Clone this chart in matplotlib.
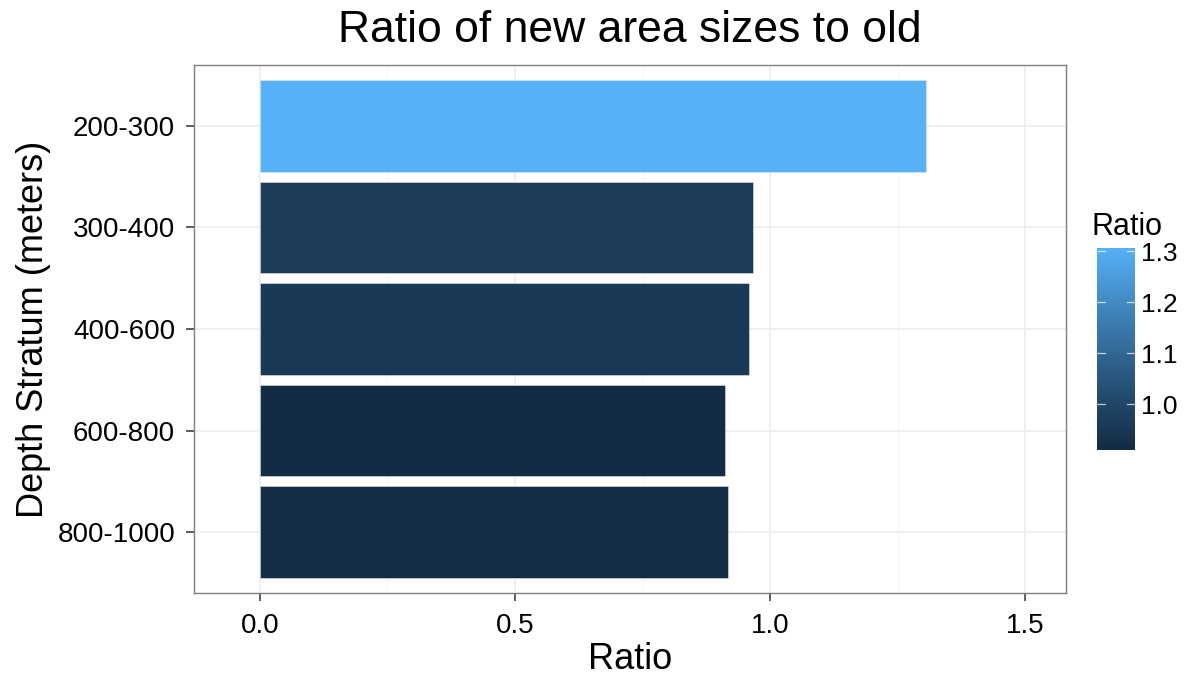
import numpy as np
import matplotlib
matplotlib.use("Agg")
import matplotlib.pyplot as plt
from matplotlib.colors import ListedColormap, Normalize

plt.rcParams['font.family'] = ['Liberation Sans', 'DejaVu Sans']

categories = ["200-300", "300-400", "400-600", "600-800", "800-1000"]
ratios = [1.306, 0.967, 0.959, 0.911, 0.918]
x_ticks = [0.0, 0.5, 1.0, 1.5]
x_tick_labels = ["0.0", "0.5", "1.0", "1.5"]
cbar_ticks = [1.0, 1.1, 1.2, 1.3]


def srgb_to_lab(rgb):
    rgb = np.asarray(rgb, float)
    lin = np.where(rgb <= 0.04045, rgb / 12.92, ((rgb + 0.055) / 1.055) ** 2.4)
    M = np.array([[0.4124, 0.3576, 0.1805], [0.2126, 0.7152, 0.0722], [0.0193, 0.1192, 0.9505]])
    xyz = M @ lin
    wp = np.array([0.95047, 1.0, 1.08883])
    t = xyz / wp
    f = np.where(t > (6 / 29) ** 3, np.cbrt(t), t / (3 * (6 / 29) ** 2) + 4 / 29)
    return np.array([116 * f[1] - 16, 500 * (f[0] - f[1]), 200 * (f[1] - f[2])])


def lab_to_srgb(lab):
    L, a, b = lab
    fy = (L + 16) / 116
    fx = fy + a / 500
    fz = fy - b / 200
    f = np.array([fx, fy, fz])
    t = np.where(f > 6 / 29, f ** 3, 3 * (6 / 29) ** 2 * (f - 4 / 29))
    wp = np.array([0.95047, 1.0, 1.08883])
    xyz = t * wp
    Minv = np.linalg.inv(np.array([[0.4124, 0.3576, 0.1805], [0.2126, 0.7152, 0.0722], [0.0193, 0.1192, 0.9505]]))
    lin = np.clip(Minv @ xyz, 0, 1)
    rgb = np.where(lin <= 0.0031308, 12.92 * lin, 1.055 * lin ** (1 / 2.4) - 0.055)
    return np.clip(rgb, 0, 1)


lo = srgb_to_lab(np.array([0x13, 0x2B, 0x43]) / 255)
hi = srgb_to_lab(np.array([0x56, 0xB1, 0xF7]) / 255)
cols = [lab_to_srgb(lo + (hi - lo) * s) for s in np.linspace(0, 1, 256)]
cmap = ListedColormap(cols)
norm = Normalize(vmin=min(ratios), vmax=max(ratios))

W, H = 1193, 681
fig = plt.figure(figsize=(W / 100, H / 100), dpi=100)
ax = fig.add_axes([194 / W, 1 - 593 / H, (1066 - 194) / W, (593 - 65) / H])

ypos = np.arange(len(categories))
ax.barh(ypos, ratios, height=0.9, color=cmap(norm(np.array(ratios))),
        edgecolor='#dde6ef', linewidth=0.4, zorder=3)

ax.set_xlim(-0.129, 1.580)
ax.set_ylim(len(categories) - 0.4, -0.6)
ax.set_xticks(x_ticks)
ax.set_xticklabels(x_tick_labels)
ax.set_xticks([0.25, 0.75, 1.25], minor=True)
ax.set_yticks(ypos)
ax.set_yticklabels(categories)
ax.grid(True, which='major', color='#ebebeb', linewidth=1.1, zorder=0)
ax.grid(True, which='minor', axis='x', color='#f2f2f2', linewidth=0.6, zorder=0)
ax.tick_params(axis='both', which='major', labelsize=20, length=5.5, width=1.1,
               color='#333333', labelcolor='black')
ax.tick_params(axis='y', which='major', pad=8)
ax.tick_params(axis='x', which='major', pad=9)
ax.tick_params(axis='x', which='minor', length=0)
for s in ax.spines.values():
    s.set_color('#7f7f7f')
    s.set_linewidth(1.0)
ax.set_axisbelow(True)

ax.set_xlabel("Ratio", fontsize=26, labelpad=2)
ax.set_ylabel("Depth Stratum (meters)", fontsize=26, labelpad=5)
fig.text((194 + 1066) / 2 / W, 1 - 31 / H, "Ratio of new area sizes to old",
         fontsize=32, ha='center', va='center')

# colorbar
cax = fig.add_axes([1097 / W, 1 - 450 / H, (1135 - 1097) / W, (450 - 248) / H])
grad = np.linspace(min(ratios), max(ratios), 256).reshape(-1, 1)
cax.imshow(grad, aspect='auto', cmap=cmap, norm=norm, origin='lower',
           extent=[0, 1, min(ratios), max(ratios)])
cax.set_xlim(0, 1)
cax.set_ylim(min(ratios), max(ratios))
for t in cbar_ticks:
    cax.plot([0, 0.2], [t, t], color='white', lw=0.9, alpha=0.7)
    cax.plot([0.8, 1.0], [t, t], color='white', lw=0.9, alpha=0.7)
cax.set_xticks([])
cax.yaxis.tick_right()
cax.set_yticks(cbar_ticks)
cax.set_yticklabels([f"{t:.1f}" for t in cbar_ticks])
cax.tick_params(axis='y', length=0, labelsize=19, pad=4)
for s in cax.spines.values():
    s.set_visible(False)
fig.text(1092 / W, 1 - 227 / H, "Ratio", fontsize=22, ha='left', va='center')

fig.savefig("out.png", dpi=100)
